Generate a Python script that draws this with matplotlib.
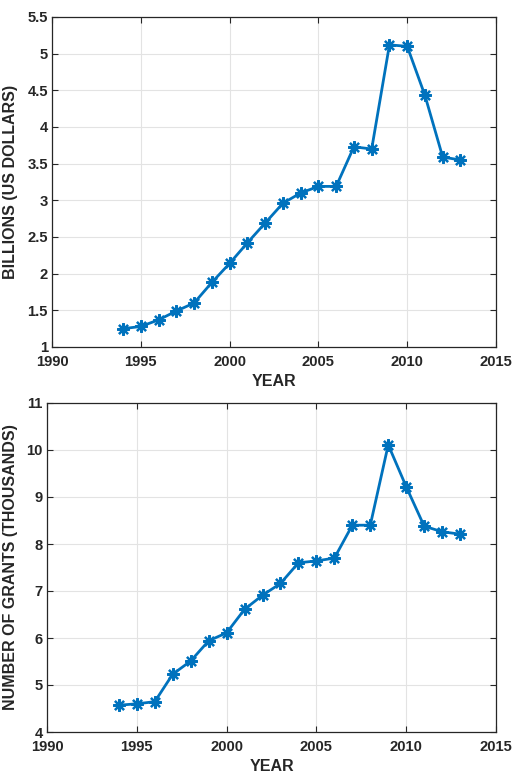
import matplotlib
matplotlib.use("Agg")
import matplotlib.pyplot as plt

years = [1994, 1995, 1996, 1997, 1998, 1999, 2000, 2001, 2002, 2003,
         2004, 2005, 2006, 2007, 2008, 2009, 2010, 2011, 2012, 2013]
billions = [1.25, 1.28, 1.37, 1.49, 1.60, 1.88, 2.14, 2.42, 2.69, 2.96,
            3.10, 3.19, 3.19, 3.73, 3.70, 5.12, 5.10, 4.43, 3.59, 3.55]
grants = [4.57, 4.60, 4.645, 5.23, 5.51, 5.94, 6.11, 6.61, 6.91, 7.16,
          7.60, 7.64, 7.70, 8.40, 8.40, 10.11, 9.22, 8.38, 8.26, 8.21]

xticks = [1990, 1995, 2000, 2005, 2010, 2015]
yticks_top = [1, 1.5, 2, 2.5, 3, 3.5, 4, 4.5, 5, 5.5]
yticklabels_top = ["1", "1.5", "2", "2.5", "3", "3.5", "4", "4.5", "5", "5.5"]
yticks_bot = [4, 5, 6, 7, 8, 9, 10, 11]

plt.rcParams['font.family'] = ['Liberation Sans', 'DejaVu Sans']
TXT = '#262626'
LINE = '#0072BD'
W, H = 514, 775
fig = plt.figure(figsize=(W / 100, H / 100), dpi=100)

def make_axes(px_left, px_top, px_right, px_bottom):
    return fig.add_axes([px_left / W, 1 - px_bottom / H,
                         (px_right - px_left) / W, (px_bottom - px_top) / H])

def style(ax, ylabel, lblx):
    ax.set_xlim(1990, 2015)
    ax.set_xticks(xticks)
    ax.grid(True, color='#e3e3e3', linewidth=0.8)
    ax.set_axisbelow(True)
    for s in ax.spines.values():
        s.set_color(TXT)
        s.set_linewidth(0.9)
    ax.tick_params(direction='in', length=4, width=0.8, top=True, right=True,
                   colors=TXT, labelsize=10.6)
    ax.tick_params(axis='x', pad=6)
    ax.tick_params(axis='y', pad=3)
    for lab in ax.get_xticklabels() + ax.get_yticklabels():
        lab.set_fontweight('bold')
    ax.set_xlabel('YEAR', fontsize=11.5, fontweight='bold', color=TXT)
    ax.set_ylabel(ylabel, fontsize=11.5, fontweight='bold', color=TXT)
    ax.xaxis.set_label_coords(0.5, -0.083)
    ax.yaxis.set_label_coords(lblx, 0.5)

ax1 = make_axes(52, 17, 496, 347)
ax1.plot(years, billions, color=LINE, linewidth=2, marker=(8, 2, 0),
         markersize=9, markeredgewidth=1.6)
ax1.set_ylim(1, 5.5)
ax1.set_yticks(yticks_top)
ax1.set_yticklabels(yticklabels_top)
style(ax1, 'BILLIONS (US DOLLARS)', -0.077)

ax2 = make_axes(47, 403, 496, 732)
ax2.plot(years, grants, color=LINE, linewidth=2, marker=(8, 2, 0),
         markersize=9, markeredgewidth=1.6)
ax2.set_ylim(4, 11)
ax2.set_yticks(yticks_bot)
style(ax2, 'NUMBER OF GRANTS (THOUSANDS)', -0.065)

fig.savefig('out.png', dpi=100)
